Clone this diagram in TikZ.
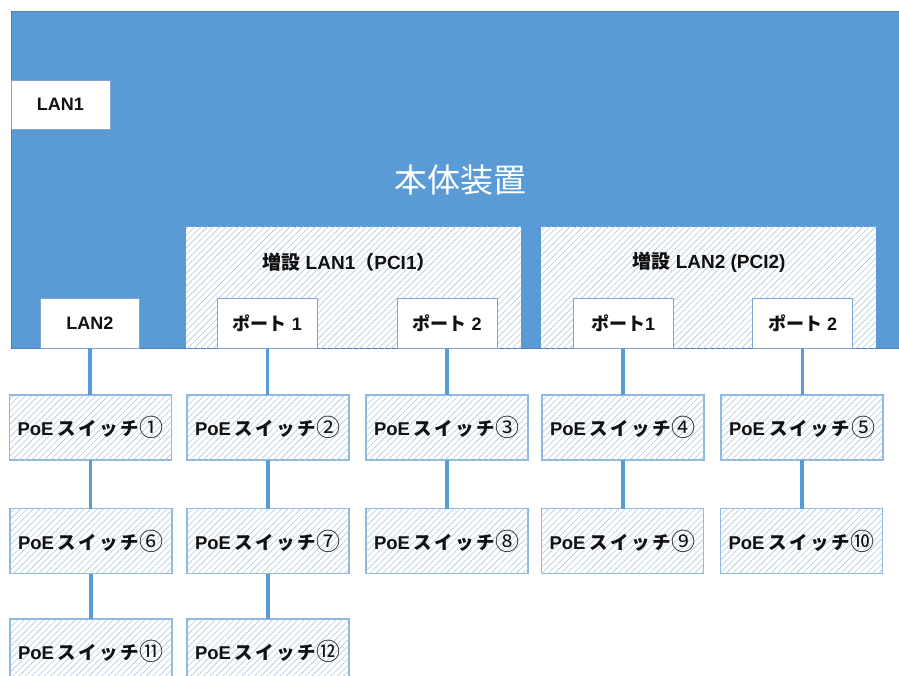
\documentclass[tikz,border=0pt]{standalone}
\usepackage{fontspec}
\setmainfont{Liberation Sans}
\newfontfamily\jpt{Noto Sans CJK JP}
\usetikzlibrary{patterns.meta}
\definecolor{mainblue}{HTML}{5B9BD5}
\definecolor{mainedge}{HTML}{4A7EBB}
\definecolor{boxedge}{HTML}{8DB8E2}
\definecolor{hatch}{HTML}{AFC7E1}
\definecolor{txt}{HTML}{111111}
\tikzset{
  hatchbox/.style={draw=boxedge, line width=1.5pt, fill=white, inner sep=0pt, outer sep=0pt,
    postaction={pattern={Lines[angle=45,distance=4.5pt,line width=0.6pt]}, pattern color=hatch}},
  whitebox/.style={draw=mainedge!70, line width=0.8pt, fill=white, inner sep=0pt, outer sep=0pt,
    font=\bfseries\fontsize{18}{20}\selectfont, text=txt},
  poe/.style={hatchbox, minimum width=162pt, minimum height=65pt,
    font=\bfseries\fontsize{18.5}{20}\selectfont, text=txt},
  cardlbl/.style={font=\bfseries\fontsize{19}{21}\selectfont, text=txt},
  link/.style={draw=mainblue, line width=3.2pt}
}
\newcommand{\sw}[1]{PoE\kern4pt{\jpt ス\kern2.5ptイ\kern2.5ptッ\kern2.5ptチ}\kern0.5pt\raisebox{-1pt}{\jpt\mdseries\fontsize{24}{20}\selectfont #1}}
\begin{document}
\begin{tikzpicture}[x=1pt,y=-1pt]
\useasboundingbox (0,0) rectangle (899,676);
\clip (0,0) rectangle (899,676);
% main unit
\node[fill=mainblue, draw=mainedge, line width=0.8pt, inner sep=0pt, outer sep=0pt,
  minimum width=900pt, minimum height=337pt, anchor=north west] (main) at (11,11) {};
\node[text=white, font=\jpt\fontsize{33}{36}\selectfont] (mainlbl) at (460,180) {本体装置};
\node[whitebox, minimum width=99pt, minimum height=49pt] (lan1) at (60.5,104.5) {LAN1};
% expansion cards
\node[hatchbox, draw=none, minimum width=335pt, minimum height=121pt, anchor=north west] (pci1) at (186,227) {};
\node[hatchbox, draw=none, minimum width=335pt, minimum height=121pt, anchor=north west] (pci2) at (541,227) {};
\node[cardlbl] (pci1lbl) at (349,262) {{\jpt 増設} LAN1{\jpt （}PCI1{\jpt ）}};
\node[cardlbl] (pci2lbl) at (709,262) {{\jpt 増設} LAN2 (PCI2)};
% ports
\node[whitebox, minimum width=99pt, minimum height=50pt] (lan2) at (90,323) {LAN2};
\node[whitebox, minimum width=100pt, minimum height=50pt] (p11) at (267.5,323) {{\jpt ポート} 1};
\node[whitebox, minimum width=100pt, minimum height=50pt] (p12) at (447,323) {{\jpt ポート} 2};
\node[whitebox, minimum width=100pt, minimum height=50pt] (p21) at (623,323) {{\jpt ポート}1};
\node[whitebox, minimum width=100pt, minimum height=50pt] (p22) at (802.5,323) {{\jpt ポート} 2};
% switches
\node[poe] (s1) at (90.5,427.5) {\sw{①}};
\node[poe] (s2) at (268,427.5) {\sw{②}};
\node[poe] (s3) at (447,427.5) {\sw{③}};
\node[poe] (s4) at (623,427.5) {\sw{④}};
\node[poe] (s5) at (802,427.5) {\sw{⑤}};
\node[poe] (s6) at (91,541) {\sw{⑥}};
\node[poe] (s7) at (268,541) {\sw{⑦}};
\node[poe] (s8) at (447,541) {\sw{⑧}};
\node[poe] (s9) at (622.5,541) {\sw{⑨}};
\node[poe] (s10) at (801.5,541) {\sw{⑩}};
\node[poe] (s11) at (91,651.5) {\sw{⑪}};
\node[poe] (s12) at (268,651.5) {\sw{⑫}};
% links
\draw[link] (lan2.south) -- (lan2.south |- s1.north);
\draw[link] (p11.south) -- (p11.south |- s2.north);
\draw[link] (p12.south) -- (p12.south |- s3.north);
\draw[link] (p21.south) -- (p21.south |- s4.north);
\draw[link] (p22.south) -- (p22.south |- s5.north);
\draw[link] (s1.south) -- (s1.south |- s6.north);
\draw[link] (s2.south) -- (s2.south |- s7.north);
\draw[link] (s3.south) -- (s3.south |- s8.north);
\draw[link] (s4.south) -- (s4.south |- s9.north);
\draw[link] (s5.south) -- (s5.south |- s10.north);
\draw[link] (s6.south) -- (s6.south |- s11.north);
\draw[link] (s7.south) -- (s7.south |- s12.north);
\end{tikzpicture}
\end{document}
